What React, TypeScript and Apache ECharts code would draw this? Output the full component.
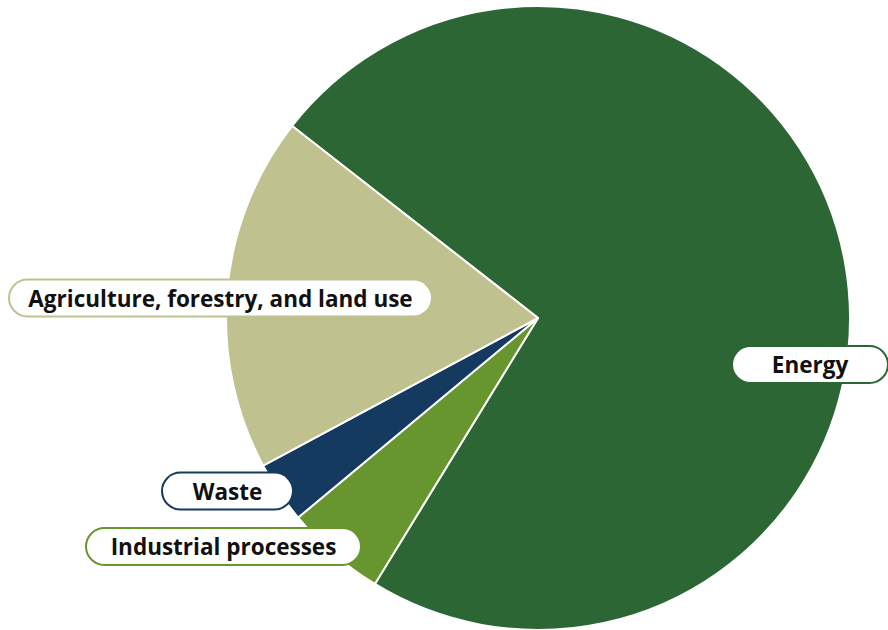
import React, { useEffect, useRef } from "react";
import * as echarts from "echarts";

const categories = ["Energy", "Industrial processes", "Waste", "Agriculture, forestry, and land use"];
const values = [73.2, 5.2, 3.2, 18.4];
const colors = ["#2c6634", "#67962f", "#153a60", "#bfc28f"];
// label box: centre x, centre y, box width
const labelBox: [number, number, number][] = [
  [810, 364.5, 158],
  [223.5, 546.5, 277],
  [227.5, 491, 133],
  [220.5, 298, 425],
];

export default function App() {
  const ref = useRef<HTMLDivElement>(null);
  useEffect(() => {
    document.body.style.margin = "0";
    const chart = echarts.init(ref.current!, null, { renderer: "svg" });
    chart.setOption({
      animation: false,
      series: [
        {
          type: "pie",
          center: [538, 318],
          radius: [0, 312],
          startAngle: 142,
          clockwise: true,
          avoidLabelOverlap: false,
          itemStyle: { borderColor: "#ffffff", borderWidth: 2 },
          labelLine: { show: false },
          emphasis: { disabled: true },
          data: categories.map((name, i) => ({
            name,
            value: values[i],
            itemStyle: { color: colors[i] },
            label: { borderColor: colors[i], width: labelBox[i][2] - 4 },
          })),
          label: {
            show: true,
            position: "inside",
            formatter: "{b}",
            color: "#111111",
            fontFamily: "'Open Sans', sans-serif",
            fontWeight: "bold",
            fontSize: 22.5,
            backgroundColor: "#ffffff",
            borderWidth: 2,
            borderRadius: 19,
            padding: [0, 0, 0, 0],
            height: 35,
            lineHeight: 35,
            align: "center",
            overflow: "none",
          },
          labelLayout: (params: any) => ({
            x: labelBox[params.dataIndex][0],
            y: labelBox[params.dataIndex][1],
            align: "center",
            verticalAlign: "middle",
          }),
        },
      ],
    });
    return () => chart.dispose();
  }, []);
  return <div ref={ref} style={{ width: 888, height: 630 }} />;
}
